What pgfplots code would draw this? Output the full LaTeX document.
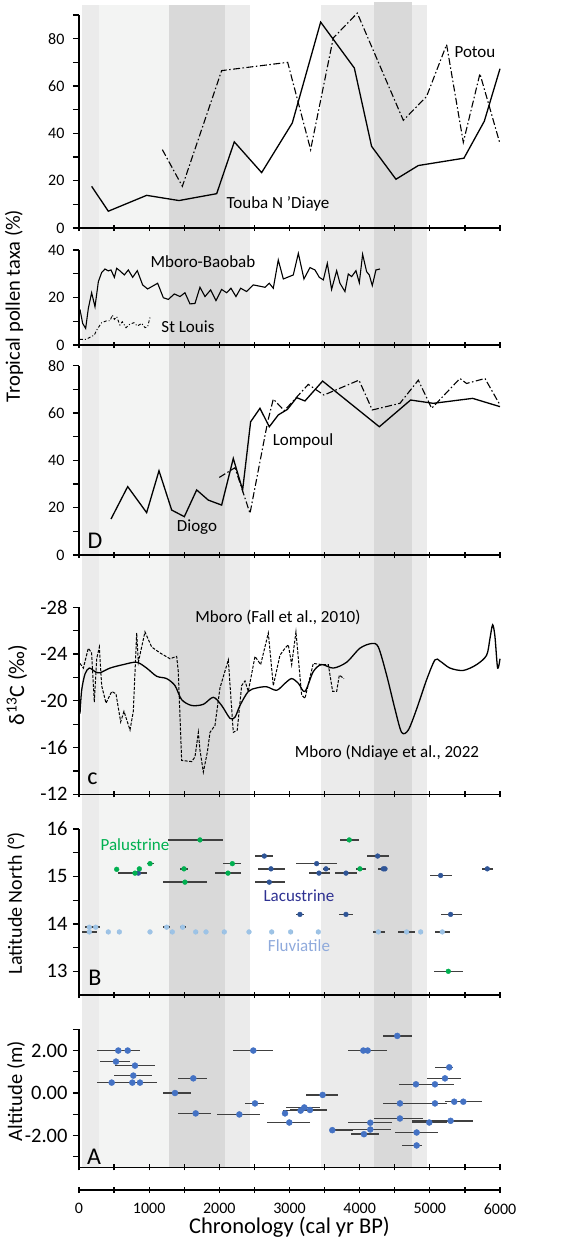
\documentclass[border=0pt]{standalone}
\usepackage{fontspec}
\setmainfont{Carlito}
\usepackage{pgfplots}
\pgfplotsset{compat=1.18}
\definecolor{bandL}{RGB}{235,235,235}
\definecolor{bandV}{RGB}{243,244,243}
\definecolor{bandD}{RGB}{217,217,217}
\definecolor{palu}{RGB}{0,176,80}
\definecolor{lacu}{RGB}{47,85,151}
\definecolor{fluv}{RGB}{157,195,230}
\definecolor{alti}{RGB}{68,114,196}
\definecolor{ebar}{RGB}{64,64,64}
\definecolor{lacutext}{RGB}{46,49,146}
\definecolor{fluvtext}{RGB}{143,170,220}
\newcommand{\tickfont}{\fontsize{16}{19}\selectfont}
\newcommand{\bigtickfont}{\fontsize{20.5}{24}\selectfont}
\newcommand{\annfont}{\fontsize{17}{20}\selectfont}
\newcommand{\letfont}{\fontsize{24}{28}\selectfont}
\pgfplotsset{
  panel/.style={scale only axis, width=421pt, xmin=0, xmax=6000,
    axis lines=left, axis line style={-, line width=1.6pt},
    xtick={0,1000,...,6000}, minor xtick={500,1500,...,5500}, xticklabels={},
    tick style={line width=1.3pt, black}, major tick length=6pt, minor tick length=6pt,
    tick align=outside,
    every major x tick/.append style={yshift=3pt},
    every minor x tick/.append style={yshift=3pt},
    yticklabel style={font=\tickfont, xshift=-5pt},
    clip=false},
  bigticks/.style={yticklabel style={font=\bigtickfont, xshift=3pt}},
  ebars/.style={error bars/.cd, x dir=both, x explicit, error mark=none,
    error bar style={line width=1.5pt, ebar}},
}
\begin{document}
\begin{tikzpicture}
\path (0pt,0pt) rectangle (576pt,-1245pt);
% background bands
\begin{axis}[scale only axis, width=421pt, height=1162pt, at={(79pt,-1167pt)}, anchor=south west,
  xmin=0, xmax=6000, ymin=0, ymax=1, axis lines=none, clip=false]
\addplot[fill=bandL, draw=none] coordinates {(40,0) (40,1) (290,1) (290,0)};
\addplot[fill=bandV, draw=none] coordinates {(290,0) (290,1) (1283,1) (1283,0)};
\addplot[fill=bandD, draw=none] coordinates {(1283,0) (1283,1) (2080,1) (2080,0)};
\addplot[fill=bandL, draw=none] coordinates {(2080,0) (2080,1) (2436,1) (2436,0)};
\addplot[fill=bandL, draw=none] coordinates {(3450,0) (3450,1) (4200,1) (4200,0)};
\addplot[fill=bandD, draw=none] coordinates {(4200,0) (4200,1.003) (4740,1.003) (4740,0)};
\addplot[fill=bandL, draw=none] coordinates {(4740,0) (4740,1) (4960,1) (4960,0)};
\end{axis}
% Panel 1
\begin{axis}[panel, height=213pt, at={(79pt,-228pt)}, anchor=south west,
  ymin=0, ymax=90, ytick={0,20,40,60,80}, yticklabels={0,20,40,60,80}, minor ytick={10,30,50,70,90}]
\addplot[black, line width=1.3pt] coordinates {(180,17.6) (418,7.1) (964,13.8) (1425,11.6) (1962,14.5) (2213,36.4) (2603,23.4) (3040,44.4) (3444,87.0) (3924,67.6) (4170,34.5) (4517,20.6) (4836,26.4) (5486,29.5) (5776,45.1) (6000,67.3)};
\addplot[black, line width=1.1pt, dash pattern=on 7pt off 2.5pt on 1.5pt off 2.5pt] coordinates {(1188,33.1) (1473,17.6) (2033,66.5) (2974,70.0) (3301,33.1) (3624,80.3) (3966,90.8) (4622,45.5) (4954,55.6) (5239,77.5) (5477,36.2) (5714,65.2) (6000,35.6)};
\node[font=\annfont] at (axis cs:5643,74.4) {Potou};
\node[font=\annfont] at (axis cs:2836,10.1) {Touba N 'Diaye};
\end{axis}
% Panel 2
\begin{axis}[panel, height=95pt, at={(79pt,-345pt)}, anchor=south west,
  ymin=0, ymax=40, ytick={0,20,40}, yticklabels={0,20,40}, minor ytick={10,30}]
\addplot[black, line width=1.1pt] coordinates {(14,15.0) (52,9.1) (95,7.0) (133,15.4) (180,22.0) (228,16.1) (276,26.7) (323,30.5) (370,32.0) (418,31.2) (456,31.6) (504,28.5) (537,32.3) (584,31.2) (646,29.5) (703,31.6) (765,28.5) (831,31.3) (907,25.3) (978,23.6) (1121,26.0) (1202,19.9) (1273,19.2) (1359,21.5) (1439,20.4) (1510,22.0) (1582,17.3) (1653,17.5) (1724,24.3) (1796,20.4) (1876,23.2) (1952,18.7) (2033,23.4) (2104,22.0) (2166,23.9) (2237,20.4) (2304,23.9) (2389,22.5) (2484,25.3) (2570,24.8) (2650,24.3) (2712,26.0) (2769,23.9) (2840,35.8) (2912,27.8) (3054,29.5) (3126,38.6) (3206,27.8) (3292,32.6) (3363,31.6) (3425,28.5) (3482,27.4) (3539,34.4) (3600,23.4) (3672,31.3) (3719,26.0) (3790,22.5) (3838,29.9) (3886,28.8) (3947,31.3) (3995,26.2) (4042,38.2) (4099,30.9) (4137,29.5) (4180,25.0) (4232,31.6) (4289,32.0)};
\addplot[black, line width=0.9pt, dash pattern=on 3pt off 2pt on 1pt off 2pt] coordinates {(14,2.4) (100,2.4) (218,4.2) (252,6.3) (323,9.4) (394,10.2) (442,10.2) (475,12.6) (504,10.8) (537,11.9) (584,8.4) (617,9.8) (670,7.3) (727,8.8) (784,9.4) (831,8.0) (893,9.1) (941,7.3) (978,7.7) (1012,11.6)};
\node[font=\annfont] at (axis cs:1767,34.9) {Mboro-Baobab};
\node[font=\annfont] at (axis cs:1553,7.6) {St Louis};
\end{axis}
% Panel 3 (D)
\begin{axis}[panel, height=189.3pt, at={(79pt,-555pt)}, anchor=south west,
  ymin=0, ymax=80, ytick={0,20,40,60,80}, yticklabels={0,20,40,60,80}, minor ytick={10,30,50,70}]
\addplot[black, line width=1.3pt] coordinates {(456,15.2) (694,28.9) (964,17.9) (1140,35.6) (1321,19.0) (1501,16.2) (1677,27.5) (1843,23.2) (2033,21.1) (2199,40.8) (2332,27.5) (2446,56.3) (2579,62.0) (2712,54.2) (2840,59.2) (2969,61.5) (3102,66.5) (3220,65.1) (3472,73.5) (4280,54.2) (4726,65.5) (5049,64.1) (5610,66.2) (6000,62.7)};
\addplot[black, line width=1.1pt, dash pattern=on 7pt off 2.5pt on 1.5pt off 2.5pt] coordinates {(2000,32.8) (2223,36.9) (2437,17.6) (2689,56.3) (2769,65.9) (2926,61.0) (3268,72.1) (3490,67.6) (3990,73.9) (4180,61.3) (4574,64.1) (4836,73.9) (5026,62.0) (5429,74.6) (5524,72.5) (5786,74.6) (6000,63.4)};
\node[font=\annfont] at (axis cs:3192,48.2) {Lompoul};
\node[font=\annfont] at (axis cs:1682,11.8) {Diogo};
\node[font=\letfont] at (axis cs:228,6.0) {D};
\end{axis}
% Panel 4 (c)
\begin{axis}[panel, bigticks, height=187pt, at={(79pt,-794.3pt)}, anchor=south west, y dir=reverse,
  ymin=-28, ymax=-12, ytick={-28,-24,-20,-16,-12}, yticklabels={-28,-24,-20,-16,-12}, minor ytick={-26,-22,-18,-14}]
\addplot[black, line width=1.3pt, smooth] coordinates {(14,-18.9) (38,-20.9) (86,-22.3) (147,-22.8) (228,-22.5) (299,-22.4) (442,-22.8) (632,-23.1) (822,-23.3) (964,-22.8) (1107,-22.1) (1249,-21.9) (1368,-21.3) (1463,-20.1) (1606,-19.6) (1772,-19.7) (1914,-20.3) (2033,-19.6) (2152,-18.5) (2223,-18.6) (2294,-19.6) (2413,-20.8) (2532,-21.1) (2674,-21.2) (2817,-20.9) (2936,-21.5) (3031,-21.9) (3126,-21.5) (3220,-20.8) (3339,-22.5) (3458,-23.1) (3624,-22.8) (3814,-23.3) (4004,-24.5) (4170,-24.9) (4266,-24.6) (4384,-22.2) (4503,-19.3) (4598,-17.3) (4693,-17.5) (4812,-19.3) (4954,-21.8) (5073,-23.5) (5145,-23.4) (5287,-22.8) (5477,-22.6) (5667,-23.1) (5809,-23.9) (5856,-25.3) (5895,-26.5) (5928,-25.5) (5966,-22.8) (6000,-23.6)};
\addplot[black, line width=1pt, dash pattern=on 3pt off 1.5pt] coordinates {(14,-23.2) (62,-22.8) (133,-24.5) (180,-24.1) (218,-19.9) (252,-23.6) (290,-24.6) (323,-21.3) (385,-19.8) (466,-20.8) (527,-20.6) (594,-18.2) (641,-19.1) (727,-17.5) (774,-19.1) (822,-25.8) (846,-23.3) (940,-25.9) (1036,-24.6) (1154,-24.1) (1297,-23.6) (1392,-23.8) (1415,-22.5) (1463,-14.9) (1606,-14.8) (1653,-15.2) (1701,-17.3) (1724,-15.8) (1772,-13.9) (1829,-15.6) (1867,-17.3) (1938,-17.9) (2009,-21.1) (2128,-23.5) (2199,-17.3) (2256,-17.5) (2318,-21.3) (2366,-21.7) (2413,-20.8) (2508,-23.8) (2589,-23.1) (2698,-25.8) (2769,-21.3) (2864,-23.9) (2936,-24.5) (2983,-24.8) (3031,-23.1) (3092,-25.9) (3173,-20.5) (3220,-20.2) (3339,-23.2) (3458,-23.1) (3553,-23.1) (3615,-20.8) (3672,-20.8) (3710,-22.2) (3776,-21.9)};
\node[font=\annfont] at (axis cs:2836,-27.1) {Mboro (Fall et al., 2010)};
\node[font=\annfont] at (axis cs:4389,-15.6) {Mboro (Ndiaye et al., 2022};
\node[font=\letfont] at (axis cs:190,-13.3) {c};
\end{axis}
% Panel 5 (B)
\begin{axis}[panel, bigticks, height=166pt, at={(79pt,-995pt)}, anchor=south west,
  ymin=12.5, ymax=16, ytick={13,14,15,16}, yticklabels={13,14,15,16}, minor ytick={13.5,14.5,15.5}]
\addplot[only marks, mark=*, mark size=2.4pt, mark options={draw=fluv, fill=fluv}, ebars] coordinates {
 (147,13.93) += (152,0) -= (61,0)
 (238,13.93)
 (1249,13.93) += (48,0) -= (47,0)
 (1477,13.93) += (53,0) -= (38,0)
 (147,13.83) += (114,0) -= (109,0)
 (418,13.83) += (30,0) -= (30,0)
 (575,13.83) += (30,0) -= (30,0)
 (1012,13.83) += (30,0) -= (30,0)
 (1330,13.83) += (30,0) -= (30,0)
 (1663,13.83) += (30,0) -= (30,0)
 (1810,13.83) += (30,0) -= (30,0)
 (2071,13.83) += (30,0) -= (30,0)
 (2423,13.83) += (30,0) -= (30,0)
 (2746,13.83) += (30,0) -= (30,0)
 (3016,13.83) += (30,0) -= (30,0)
 (3411,13.83) += (30,0) -= (30,0)
 (4266,13.83) += (95,0) -= (71,0)
 (4669,13.83) += (119,0) -= (118,0)
 (4869,13.83) += (30,0) -= (30,0)
 (5178,13.83) += (109,0) -= (105,0)
};
\addplot[only marks, mark=*, mark size=2.4pt, mark options={draw=lacu, fill=lacu}, ebars] coordinates {
 (846,15.07) += (118,0) -= (286,0)
 (2641,15.43) += (128,0) -= (133,0)
 (2736,15.16) += (200,0) -= (180,0)
 (2712,14.88) += (224,0) -= (204,0)
 (3149,14.2) += (57,0) -= (57,0)
 (3387,15.27) += (285,0) -= (295,0)
 (3520,15.16) += (57,0) -= (38,0)
 (3420,15.07) += (157,0) -= (138,0)
 (3805,15.07) += (161,0) -= (157,0)
 (3805,14.2) += (95,0) -= (95,0)
 (4256,15.43) += (162,0) -= (157,0)
 (4337,15.16) += (57,0) -= (71,0)
 (4361,15.16)
 (5154,15.02) += (166,0) -= (152,0)
 (5296,14.2) += (157,0) -= (142,0)
 (5819,15.16) += (76,0) -= (81,0)
};
\addplot[only marks, mark=*, mark size=2.4pt, mark options={draw=palu, fill=palu}, ebars] coordinates {
 (537,15.15)
 (798,15.07)
 (860,15.16)
 (1012,15.27) += (50,0) -= (50,0)
 (1724,15.77) += (333,0) -= (451,0)
 (1496,15.16) += (57,0) -= (61,0)
 (1510,14.88) += (309,0) -= (308,0)
 (2185,15.27) += (119,0) -= (128,0)
 (2123,15.07) += (181,0) -= (185,0)
 (3852,15.77) += (143,0) -= (133,0)
 (4004,15.16) += (86,0) -= (57,0)
 (5263,13.0) += (214,0) -= (199,0)
};
\node[font=\annfont, text=palu] at (axis cs:798,15.66) {Palustrine};
\node[font=\annfont, text=lacutext] at (axis cs:3135,14.60) {Lacustrine};
\node[font=\annfont, text=fluvtext] at (axis cs:3135,13.54) {Fluviatile};
\node[font=\letfont] at (axis cs:228,12.86) {B};
\end{axis}
% Panel 6 (A)
\begin{axis}[panel, bigticks, height=138pt, at={(79pt,-1167.3pt)}, anchor=south west,
  ymin=-3.5, ymax=3, ytick={-2,0,2}, yticklabels={-2.00,0.00,2.00}, minor ytick={-3,-1,1,3}]
\addplot[only marks, mark=*, mark size=3pt, mark options={draw=alti, fill=alti}, ebars] coordinates {
 (560,2.0) += (309,0) -= (299,0)
 (694,2.0)
 (527,1.48) += (200,0) -= (228,0)
 (798,1.29) += (285,0) -= (285,0)
 (774,0.82) += (271,0) -= (275,0)
 (466,0.49) += (650,0) -= (214,0)
 (760,0.49)
 (869,0.49)
 (1629,0.69) += (190,0) -= (213,0)
 (1368,0.0) += (228,0) -= (176,0)
 (1663,-0.96) += (218,0) -= (247,0)
 (2285,-1.01) += (294,0) -= (323,0)
 (2484,2.0) += (285,0) -= (285,0)
 (2508,-0.49) += (128,0) -= (142,0)
 (2936,-0.96)
 (2997,-1.39) += (295,0) -= (323,0)
 (3159,-0.83) += (323,0) -= (247,0)
 (3211,-0.68) += (229,0) -= (261,0)
 (3292,-0.80) += (247,0) -= (285,0)
 (3472,-0.09) += (224,0) -= (237,0)
 (3610,-1.75) += (290,0) -= (33,0)
 (4052,2.0) += (332,0) -= (214,0)
 (4114,2.0)
 (4061,-1.94) += (219,0) -= (190,0)
 (4152,-1.40) += (304,0) -= (314,0)
 (4152,-1.72) += (288,0) -= (281,0)
 (4536,2.69) += (205,0) -= (209,0)
 (4574,-0.49) += (262,0) -= (247,0)
 (4574,-1.20) += (333,0) -= (370,0)
 (4802,0.41) += (238,0) -= (237,0)
 (4812,-1.86) += (309,0) -= (309,0)
 (4812,-2.47) += (71,0) -= (214,0)
 (4992,-1.39) += (247,0) -= (251,0)
 (5073,0.41) += (276,0) -= (332,0)
 (5073,-0.49) += (166,0) -= (237,0)
 (5216,0.69) += (223,0) -= (262,0)
 (5277,1.21) += (48,0) -= (204,0)
 (5296,-1.31) += (323,0) -= (555,0)
 (5348,-0.41) += (399,0) -= (132,0)
 (5477,-0.41)
};
\node[font=\letfont] at (axis cs:214,-3.0) {A};
\end{axis}
% bottom chronology axis
\begin{axis}[scale only axis, width=421pt, height=10pt, at={(79pt,-1190pt)}, anchor=south west,
  xmin=0, xmax=6000, ymin=0, ymax=1, axis x line=bottom, axis y line=none,
  axis line style={-, line width=1.6pt},
  xtick={0,1000,...,6000}, minor xtick={500,1500,...,5500},
  xticklabels={0,1000,2000,3000,4000,5000,6000},
  tick style={line width=1.3pt, black}, major tick length=6pt, minor tick length=6pt, tick align=outside,
  every major x tick/.append style={yshift=3pt},
  every minor x tick/.append style={yshift=3pt},
  xticklabel style={font=\tickfont, yshift=-4pt},
  xlabel={Chronology (cal yr BP)}, xlabel style={font=\fontsize{22.5}{26}\selectfont, yshift=4pt}]
\end{axis}
% y labels
\node[rotate=90, font=\fontsize{20.5}{24}\selectfont] at (14pt,-306pt) {Tropical pollen taxa (\%)};
\node[rotate=90, font=\fontsize{22}{26}\selectfont] at (17pt,-685pt) {δ\textsuperscript{13}C (‰)};
\node[rotate=90, font=\fontsize{20}{24}\selectfont] at (16pt,-903pt) {Latitude North (°)};
\node[rotate=90, font=\fontsize{20.5}{24}\selectfont] at (16pt,-1091pt) {Altitude (m)};
\end{tikzpicture}
\end{document}
